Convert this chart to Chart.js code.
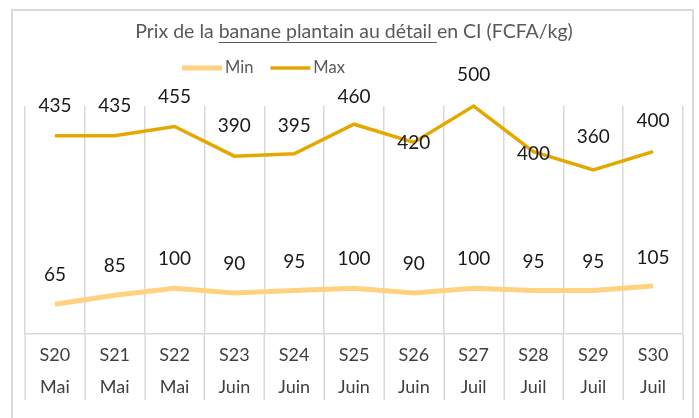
<!DOCTYPE html>
<html>
<head>
<meta charset="utf-8">
<script src="https://cdn.jsdelivr.net/npm/chart.js@4.4.1/dist/chart.umd.min.js"></script>
<style>
  html, body { margin: 0; padding: 0; background: #fff; }
  #wrap { width: 699px; height: 418px; position: relative; }
</style>
</head>
<body>
<div id="wrap"><canvas id="prixChart" width="699" height="418"></canvas></div>
<script>
// données
var semaines = ['S20', 'S21', 'S22', 'S23', 'S24', 'S25', 'S26', 'S27', 'S28', 'S29', 'S30'];
var mois = ['Mai', 'Mai', 'Mai', 'Juin', 'Juin', 'Juin', 'Juin', 'Juil', 'Juil', 'Juil', 'Juil'];
var prixMin = [65, 85, 100, 90, 95, 100, 90, 100, 95, 95, 105];
var prixMax = [435, 435, 455, 390, 395, 460, 420, 500, 400, 360, 400];

var titre = 'Prix de la banane plantain au détail en CI (FCFA/kg)';
var titreSouligne = 'banane plantain au détail ';
var police = 'Lato, "Open Sans", sans-serif';

// cadre gris autour du graphique + séparateurs sous l'axe
const cadre = {
    id: 'cadre',
    beforeDraw(chart) {
        const ctx = chart.ctx;
        ctx.save();
        ctx.strokeStyle = '#d9d9d9';
        ctx.lineWidth = 2;
        ctx.strokeRect(12, 10, 681, 430);
        ctx.restore();
    },
    afterDraw(chart) {
        const ctx = chart.ctx;
        const a = chart.chartArea;
        const n = chart.data.labels.length;
        ctx.save();
        ctx.strokeStyle = '#d9d9d9';
        ctx.lineWidth = 1.5;
        ctx.beginPath();
        for (let i = 0; i <= n; i++) {
            const x = Math.round(a.left + i * a.width / n) + 0.25;
            ctx.moveTo(x, a.bottom);
            ctx.lineTo(x, 400);
        }
        ctx.stroke();
        ctx.restore();
    }
};

// soulignement d'une partie du titre
const soulignement = {
    id: 'soulignement',
    afterDraw(chart) {
        const t = chart.titleBlock;
        if (!t) return;
        const ctx = chart.ctx;
        ctx.save();
        ctx.font = t.options.font.size + 'px ' + police;
        const full = ctx.measureText(titre).width;
        const debut = titre.indexOf(titreSouligne);
        const x0 = (t.left + t.right) / 2 - full / 2 + ctx.measureText(titre.slice(0, debut)).width;
        const w = ctx.measureText(titreSouligne).width;
        const y = 42.5;
        ctx.strokeStyle = '#595959';
        ctx.lineWidth = 1;
        ctx.beginPath();
        ctx.moveTo(x0, y);
        ctx.lineTo(x0 + w, y);
        ctx.stroke();
        ctx.restore();
    }
};

// légende (décalée vers la gauche comme dans l'original)
const legende = {
    id: 'legende',
    afterDraw(chart) {
        const ctx = chart.ctx;
        ctx.save();
        ctx.font = '16.5px ' + police;
        ctx.textBaseline = 'middle';
        ctx.fillStyle = '#595959';
        let x = 182;
        const y = 68;
        chart.data.datasets.forEach(ds => {
            ctx.strokeStyle = ds.borderColor;
            ctx.lineWidth = ds.borderWidth;
            ctx.beginPath();
            ctx.moveTo(x, y);
            ctx.lineTo(x + 40, y);
            ctx.stroke();
            ctx.fillText(ds.label, x + 43, y);
            x += 43 + ctx.measureText(ds.label).width + 17;
        });
        ctx.restore();
    }
};

// étiquettes de valeurs
const etiquettes = {
    id: 'etiquettes',
    afterDatasetsDraw(chart) {
        const ctx = chart.ctx;
        ctx.save();
        ctx.font = '19px ' + police;
        ctx.fillStyle = '#1a1a1a';
        ctx.textAlign = 'center';
        ctx.textBaseline = 'middle';
        chart.data.datasets.forEach((ds, i) => {
            chart.getDatasetMeta(i).data.forEach((pt, j) => {
                const dy = ds.decalage[j];
                ctx.fillText(String(ds.data[j]), pt.x, pt.y + dy);
            });
        });
        ctx.restore();
    }
};

var ctx = document.getElementById('prixChart').getContext('2d');
var prixChart = new Chart(ctx, {
    type: 'line',
    data: {
        labels: semaines.map((s, i) => [s, mois[i]]),
        datasets: [{
            label: 'Min',
            data: prixMin,
            borderColor: '#ffd280',
            backgroundColor: '#ffd280',
            borderWidth: 5,
            pointRadius: 0,
            tension: 0,
            clip: false,
            decalage: [-29, -29, -29, -29, -29, -29, -29, -29, -29, -29, -28]
        }, {
            label: 'Max',
            data: prixMax,
            borderColor: '#e5a800',
            backgroundColor: '#e5a800',
            borderWidth: 3.5,
            pointRadius: 0,
            tension: 0,
            clip: false,
            decalage: [-30, -30, -30, -30, -28, -27, 0, -31, 2, -33, -31]
        }]
    },
    options: {
        responsive: false,
        animation: false,
        layout: { padding: { left: 25, right: 16, top: 14, bottom: 10 } },
        scales: {
            x: {
                offset: true,
                grid: {
                    offset: true,
                    color: '#d9d9d9',
                    lineWidth: 1.5,
                    drawTicks: false
                },
                border: { color: '#d9d9d9', width: 1.5 },
                ticks: {
                    color: '#404040',
                    padding: 5,
                    maxRotation: 0,
                    autoSkip: false,
                    font: { family: police, size: 18, lineHeight: 1.78 }
                }
            },
            y: {
                display: false,
                min: 0,
                max: 500
            }
        },
        plugins: {
            title: {
                display: true,
                text: titre,
                color: '#595959',
                font: { family: police, size: 19.5, weight: 'normal' },
                padding: { top: 6, bottom: 62.6 }
            },
            legend: { display: false },
            tooltip: { enabled: false }
        }
    },
    plugins: [cadre, soulignement, legende, etiquettes]
});
</script>
</body>
</html>
